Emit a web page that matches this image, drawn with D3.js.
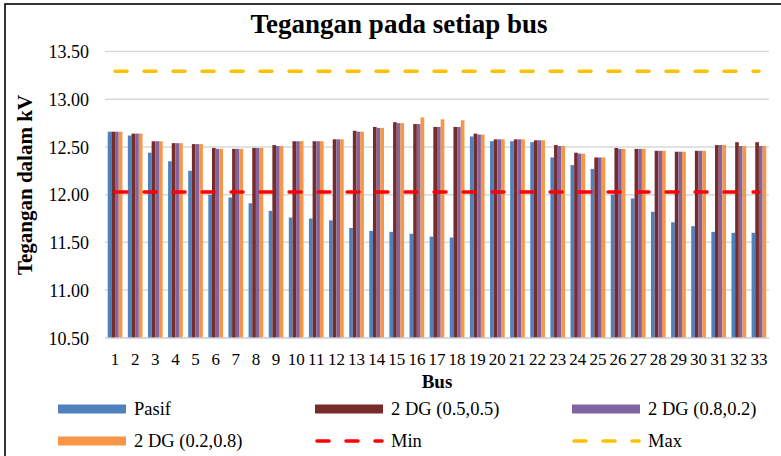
<!DOCTYPE html>
<html>
<head>
<meta charset="utf-8">
<script src="https://cdn.jsdelivr.net/npm/d3@7"></script>
<style>
  html, body { margin: 0; padding: 0; background: #fff; }
  svg { display: block; }
  text { font-family: "Liberation Serif", "Times New Roman", serif; fill: #000; }
</style>
</head>
<body>
<svg id="chart" width="781" height="456" font-family="Liberation Serif, serif"></svg>
<script>
const categories = ["1","2","3","4","5","6","7","8","9","10","11","12","13","14","15","16","17","18","19","20","21","22","23","24","25","26","27","28","29","30","31","32","33"];
const seriesNames = ["Pasif", "2 DG (0.5,0.5)", "2 DG (0.8,0.2)", "2 DG (0.2,0.8)"];
const pasif = [12.66,12.62,12.44,12.35,12.25,12.00,11.97,11.91,11.83,11.76,11.75,11.73,11.65,11.62,11.61,11.59,11.56,11.55,12.61,12.56,12.56,12.55,12.39,12.31,12.27,12.00,11.96,11.82,11.71,11.67,11.61,11.60,11.60];
const dg55  = [12.66,12.64,12.56,12.54,12.53,12.49,12.48,12.49,12.52,12.56,12.56,12.58,12.67,12.71,12.76,12.74,12.71,12.71,12.64,12.58,12.58,12.57,12.52,12.44,12.39,12.49,12.48,12.46,12.45,12.46,12.52,12.55,12.55];
const dg82  = [12.66,12.64,12.56,12.54,12.53,12.48,12.48,12.49,12.51,12.56,12.56,12.58,12.66,12.70,12.75,12.74,12.71,12.71,12.63,12.58,12.58,12.57,12.51,12.43,12.39,12.48,12.48,12.46,12.45,12.46,12.52,12.51,12.51];
const dg28  = [12.66,12.64,12.56,12.54,12.53,12.48,12.48,12.49,12.51,12.56,12.56,12.58,12.66,12.70,12.75,12.81,12.79,12.78,12.63,12.58,12.58,12.57,12.51,12.43,12.39,12.48,12.48,12.46,12.45,12.46,12.52,12.51,12.51];
const minVoltage = 12.027;
const maxVoltage = 13.293;
const yTicks = [10.5, 11.0, 11.5, 12.0, 12.5, 13.0, 13.5];
const colors = ["#4F81BD", "#772C2A", "#8064A2", "#F79646"];
const lineColors = { min: "#FF0000", max: "#FFC000" };

const series = [pasif, dg55, dg82, dg28];
const SERIF = '"Liberation Serif", "Times New Roman", serif';

const svg = d3.select("#chart");
const plot = { left: 105, right: 769, top: 51.6, bottom: 337.7 };

// outer border
svg.append("rect").attr("x", 5).attr("y", 4).attr("width", 800).attr("height", 500)
  .attr("fill", "none").attr("stroke", "#000").attr("stroke-width", 1.6);

const x0 = d3.scaleBand().domain(categories).range([plot.left, plot.right])
  .paddingInner(0.27).paddingOuter(0.135);
const x1 = d3.scaleBand().domain(d3.range(4)).range([0, x0.bandwidth()]);
const y = d3.scaleLinear().domain([10.5, 13.5]).range([plot.bottom, plot.top]);

// gridlines
svg.append("g").selectAll("line").data(yTicks).join("line")
  .attr("x1", plot.left).attr("x2", plot.right)
  .attr("y1", d => y(d)).attr("y2", d => y(d))
  .attr("stroke", "#D9D9D9").attr("stroke-width", 1.5);

// y axis labels
const yAxis = d3.axisLeft(y).tickValues(yTicks).tickFormat(d3.format(".2f")).tickSize(0).tickPadding(0);
const gy = svg.append("g").attr("transform", `translate(89,0)`).call(yAxis)
  .attr("font-family", SERIF).attr("font-size", 18);
gy.select(".domain").remove();
gy.selectAll("text").style("font-family", SERIF)
  .style("font-size", "18px").attr("dy", "0.35em").attr("fill", "#000");

// bars
const groups = svg.append("g").selectAll("g").data(categories).join("g")
  .attr("transform", d => `translate(${x0(d)},0)`);
groups.selectAll("rect").data((d, i) => series.map((s, k) => ({ k, v: s[i] }))).join("rect")
  .attr("x", d => x1(d.k)).attr("width", x1.bandwidth())
  .attr("y", d => y(d.v)).attr("height", d => y(10.5) - y(d.v))
  .attr("fill", d => colors[d.k]);

// x axis
const xAxis = d3.axisBottom(x0).tickSize(0).tickPadding(0);
const gx = svg.append("g").attr("transform", `translate(0,${plot.bottom})`).call(xAxis)
  .attr("font-family", SERIF).attr("font-size", 17);
gx.select(".domain").attr("stroke", "#D9D9D9").attr("stroke-width", 1.5);
gx.selectAll("text").style("font-family", SERIF)
  .style("font-size", "17px").attr("dy", "0").attr("y", 27).attr("fill", "#000");

// min / max lines
const xc = c => x0(c) + x0.bandwidth() / 2;
const first = categories[0], last = categories[categories.length - 1];
[[minVoltage, lineColors.min], [maxVoltage, lineColors.max]].forEach(([v, c]) => {
  svg.append("line").attr("x1", xc(first)).attr("x2", xc(last))
    .attr("y1", y(v)).attr("y2", y(v))
    .attr("stroke", c).attr("stroke-width", 3.5)
    .attr("stroke-dasharray", "12,17").attr("stroke-linecap", "round");
});

// title
svg.append("text").attr("x", 399).attr("y", 33).attr("text-anchor", "middle")
  .style("font-size", "27px").style("font-weight", "bold").text("Tegangan pada setiap bus");

// axis titles
svg.append("text").attr("transform", "translate(32,185) rotate(-90)").attr("text-anchor", "middle")
  .style("font-size", "21px").style("font-weight", "bold").text("Tegangan dalam kV");
svg.append("text").attr("x", (plot.left + plot.right) / 2).attr("y", 388).attr("text-anchor", "middle")
  .style("font-size", "19px").style("font-weight", "bold").text("Bus");

// legend
const legendItems = [
  { name: seriesNames[0], type: "rect", color: colors[0], x: 58, y: 409 },
  { name: seriesNames[1], type: "rect", color: colors[1], x: 315, y: 409 },
  { name: seriesNames[2], type: "rect", color: colors[2], x: 572, y: 409 },
  { name: seriesNames[3], type: "rect", color: colors[3], x: 58, y: 441 },
  { name: "Min", type: "line", color: lineColors.min, x: 315, y: 441 },
  { name: "Max", type: "line", color: lineColors.max, x: 572, y: 441 }
];
const lg = svg.append("g").selectAll("g").data(legendItems).join("g");
lg.filter(d => d.type === "rect").append("rect")
  .attr("x", d => d.x).attr("y", d => d.y - 4.5).attr("width", 68).attr("height", 9)
  .attr("fill", d => d.color);
lg.filter(d => d.type === "line").append("line")
  .attr("x1", d => d.x + 2).attr("x2", d => d.x + 67).attr("y1", d => d.y).attr("y2", d => d.y)
  .attr("stroke", d => d.color).attr("stroke-width", 3.5)
  .attr("stroke-dasharray", "12,17").attr("stroke-linecap", "round");
lg.append("text").attr("x", d => d.x + 76).attr("y", d => d.y).attr("dy", "0.35em")
  .style("font-family", SERIF).style("font-size", "18.5px").text(d => d.name);
</script>
</body>
</html>
